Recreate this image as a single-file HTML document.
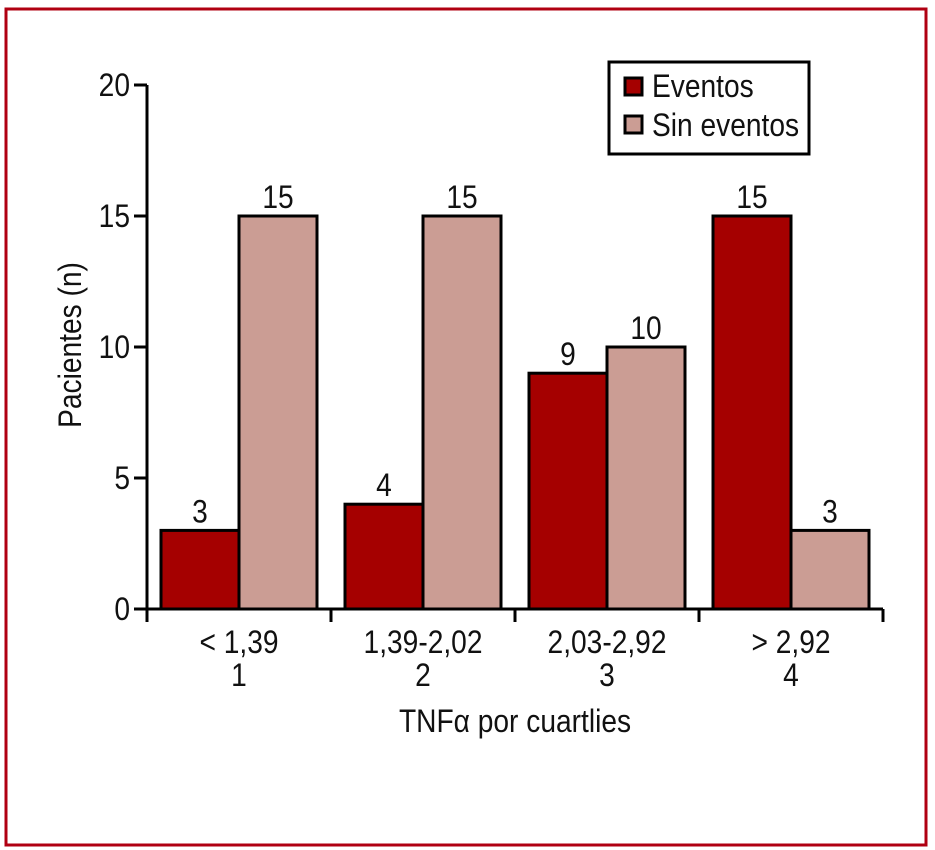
<!DOCTYPE html>
<html><head><meta charset="utf-8"><style>
html,body{margin:0;padding:0;background:#fff;width:935px;height:850px;overflow:hidden}
svg text{font-family:"Liberation Sans Narrow","Liberation Sans",sans-serif;fill:#111}
</style></head><body>
<svg id="chart" width="935" height="850" xmlns="http://www.w3.org/2000/svg">
<rect x="6" y="9" width="920" height="836" fill="none" stroke="#b00012" stroke-width="3"/>
<g id="axes"></g>
<g id="bars"></g>
<g>
<rect x="609" y="62" width="200" height="92" fill="#fff" stroke="#000" stroke-width="3"/>
<rect x="625" y="78" width="17" height="17" fill="#a50000" stroke="#000" stroke-width="3"/>
<text transform="translate(652 97) scale(0.88 1)" font-size="32">Eventos</text>
<rect x="625" y="116" width="17" height="17" fill="#cb9d94" stroke="#000" stroke-width="3"/>
<text transform="translate(652 136) scale(0.88 1)" font-size="32">Sin eventos</text>
</g>
<text transform="translate(81 345) rotate(-90) scale(0.88 1)" font-size="32" text-anchor="middle">Pacientes (n)</text>
<text transform="translate(515 732) scale(0.88 1)" font-size="32" text-anchor="middle">TNFα por cuartlies</text>
</svg>
<script>
const categories = ["< 1,39", "1,39-2,02", "2,03-2,92", "> 2,92"];
const categoryNumbers = ["1", "2", "3", "4"];
const eventos = [3, 4, 9, 15];
const sinEventos = [15, 15, 10, 3];
const yTicks = [0, 5, 10, 15, 20];

const NS = "http://www.w3.org/2000/svg";
const x0 = 147, catW = 184, y0 = 609, yTop = 85, yMax = 20;
function yScale(v){ return y0 - (y0 - yTop) * v / yMax; }
function xCat(i){ return x0 + i * catW; }
function mk(tag, attrs, parent){ const e = document.createElementNS(NS, tag); for (const k in attrs) e.setAttribute(k, attrs[k]); parent.appendChild(e); return e; }
function txt(x, y, anchor, parent){ return mk('text', {transform:'translate('+x+' '+y+') scale(0.88 1)', 'font-size':32, 'text-anchor':anchor}, parent); }
const axes = document.getElementById('axes');
const bars = document.getElementById('bars');

let yl = mk('line', {x1:x0, y1:yScale(yMax), x2:x0, y2:y0, stroke:'#000', 'stroke-width':3}, axes);


let xl = mk('line', {x1:134, y1:y0, x2:xCat(categories.length), y2:y0, stroke:'#000', 'stroke-width':3}, axes);



yTicks.forEach(t => {
  const y = yScale(t);
  const tk = mk('line', {x1:x0-13, y1:y, x2:x0, y2:y, stroke:'#000', 'stroke-width':3}, axes);
  
  
  const tl = txt(x0-17, y+11, 'end', axes);
  tl.textContent = t;
  
  
});

for (let i = 0; i <= categories.length; i++) {
  const tk = mk('line', {x1:xCat(i), y1:y0, x2:xCat(i), y2:y0+13, stroke:'#000', 'stroke-width':3}, axes);
  
  
}

categories.forEach((c, i) => {
  const cx = xCat(i) + catW/2;
  const l1 = txt(cx, 653, 'middle', axes);
  l1.textContent = c;
  
  
  const l2 = txt(cx, 686, 'middle', axes);
  l2.textContent = categoryNumbers[i];
  
  

  const bw = 78, bx = xCat(i) + 14;
  [[eventos[i], '#a50000', 'bar-eventos'], [sinEventos[i], '#cb9d94', 'bar-sin-eventos']].forEach((s, j) => {
    const x = bx + j*bw, y = yScale(s[0]);
    const r = mk('rect', {x:x, y:y, width:bw, height:y0-y, fill:s[1], stroke:'#000', 'stroke-width':3}, bars);
    
    
    const v = txt(x+bw/2, y-8, 'middle', bars);
    v.textContent = s[0];
    
    
  });
});
</script>
</body></html>
